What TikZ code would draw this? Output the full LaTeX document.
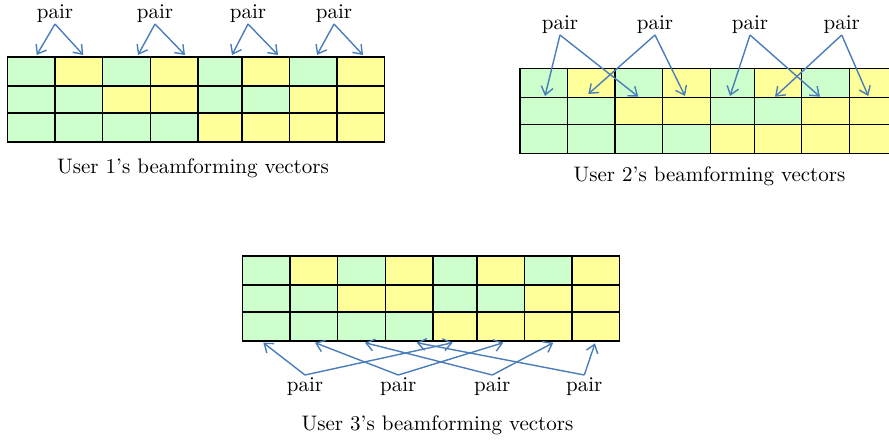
\documentclass[tikz,border=0pt]{standalone}
\usetikzlibrary{arrows.meta}
\definecolor{cG}{RGB}{204,255,204}
\definecolor{cY}{RGB}{255,255,153}
\definecolor{arrblue}{RGB}{74,126,187}
\newcommand{\beamgrid}[2]{%
  \begin{scope}[shift={(#1,#2)}]
    \foreach \a/\b/\ca/\cb/\cc in {0/47.5/G/G/G, 47.5/95/Y/G/G, 95/142.7/G/Y/G, 142.7/190.3/Y/Y/G, 190.3/234.3/G/G/Y, 234.3/281.7/Y/G/Y, 281.7/329.4/G/Y/Y, 329.4/377.1/Y/Y/Y}{
      \fill[c\ca] (\a,0) rectangle (\b,29);
      \fill[c\cb] (\a,29) rectangle (\b,56);
      \fill[c\cc] (\a,56) rectangle (\b,85);
    }
    \foreach \y in {0,29,56,85}{\draw[cellline] (0,\y) -- (377.1,\y);}
    \foreach \x in {0,47.5,95,142.7,190.3,234.3,281.7,329.4,377.1}{\draw[cellline] (\x,0) -- (\x,85);}
  \end{scope}}
\begin{document}
\begin{tikzpicture}[x=0.5pt, y=-0.5pt,
  cellline/.style={draw=black, line width=0.7pt, line cap=rect},
  arr/.style={draw=arrblue, line width=0.7pt, -{Straight Barb[length=4pt,width=6pt]}},
  lbl/.style={font=\fontsize{10.5}{12.6}\selectfont, inner sep=0.3pt},
  captext/.style={font=\fontsize{10.5}{12.6}\selectfont, inner sep=0pt}]
\clip (0,0) rectangle (889,440);
% grids
\beamgrid{7.5}{57}
\beamgrid{520}{68.3}
\beamgrid{242.5}{256}
% captions
\node[captext] (cap1) at (193,168) {User 1's beamforming vectors};
\node[captext] (cap2) at (709.5,176) {User 2's beamforming vectors};
\node[captext] (cap3) at (437.5,425) {User 3's beamforming vectors};
% ---- user 1 pairs
\node[lbl, anchor=south] (a1) at (55,24) {pair};
\node[lbl, anchor=south] (a2) at (155,24) {pair};
\node[lbl, anchor=south] (a3) at (248,24) {pair};
\node[lbl, anchor=south] (a4) at (334,24) {pair};
\coordinate (a1l) at (36.7,55); \coordinate (a1r) at (83.3,55);
\coordinate (a2l) at (138,55);  \coordinate (a2r) at (185,55);
\coordinate (a3l) at (232,55);  \coordinate (a3r) at (278,55);
\coordinate (a4l) at (317,55);  \coordinate (a4r) at (363,55);
\foreach \n in {a1,a2,a3,a4}{
  \draw[arr] (\n.south) -- (\n l);
  \draw[arr] (\n.south) -- (\n r);
}
% ---- user 2 pairs
\node[lbl, anchor=south] (b1) at (560,35) {pair};
\node[lbl, anchor=south] (b2) at (655,35) {pair};
\node[lbl, anchor=south] (b3) at (750,35) {pair};
\node[lbl, anchor=south] (b4) at (841.7,35) {pair};
\coordinate (b1l) at (545,96);    \coordinate (b1r) at (638.3,96.7);
\coordinate (b2l) at (588.3,94);  \coordinate (b2r) at (685,96);
\coordinate (b3l) at (730,96);    \coordinate (b3r) at (820,96.7);
\coordinate (b4l) at (775,96.7);  \coordinate (b4r) at (868.3,96);
\foreach \n in {b1,b2,b3,b4}{
  \draw[arr] (\n.south) -- (\n l);
  \draw[arr] (\n.south) -- (\n r);
}
% ---- user 3 pairs
\node[lbl, anchor=north, inner sep=1pt] (c1) at (305,375) {pair};
\node[lbl, anchor=north, inner sep=1pt] (c2) at (398.3,375) {pair};
\node[lbl, anchor=north, inner sep=1pt] (c3) at (492.3,375) {pair};
\node[lbl, anchor=north, inner sep=1pt] (c4) at (584.3,375) {pair};
\coordinate (c1l) at (263.3,342.7); \coordinate (c1r) at (452.7,342.7);
\coordinate (c2l) at (315,342.7);   \coordinate (c2r) at (503.3,342.7);
\coordinate (c3l) at (365,342.7);   \coordinate (c3r) at (553.3,342.7);
\coordinate (c4l) at (416.7,342.7); \coordinate (c4r) at (595,343.3);
\foreach \n in {c1,c2,c3,c4}{
  \draw[arr] (\n.north) -- (\n l);
  \draw[arr] (\n.north) -- (\n r);
}
\end{tikzpicture}
\end{document}
